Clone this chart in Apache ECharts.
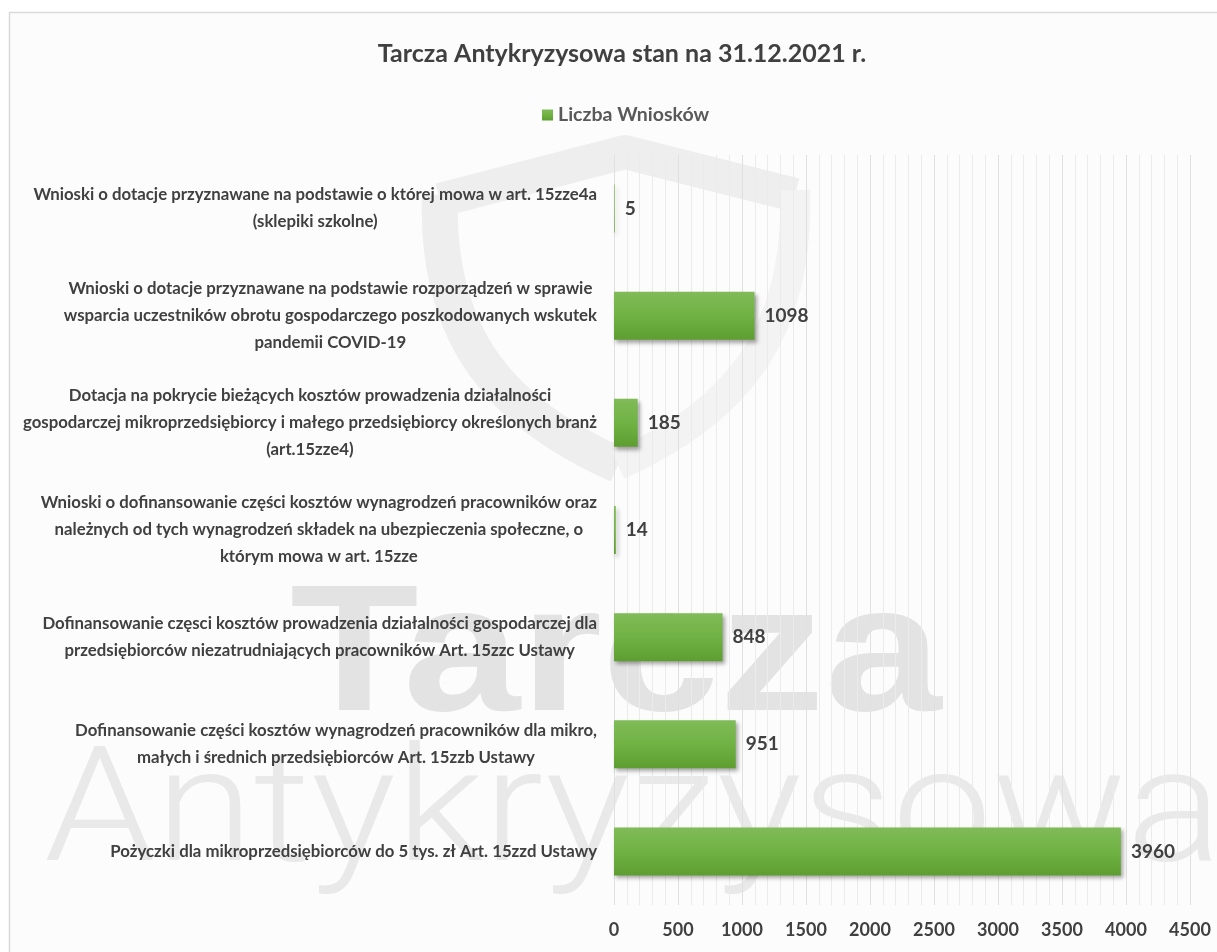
<!DOCTYPE html>
<html>
<head>
<meta charset="utf-8">
<script src="https://cdn.jsdelivr.net/npm/echarts@6/dist/echarts.min.js"></script>
<style>
  html, body { margin: 0; padding: 0; background: #fff; }
  #main { width: 1217px; height: 952px; }
</style>
</head>
<body>
<div id="main"></div>
<script>
// dane z wykresu (od góry do dołu)
var categories = [
  'Wnioski o dotacje przyznawane na podstawie o której mowa w art. 15zze4a\n(sklepiki szkolne)',
  'Wnioski o dotacje przyznawane na podstawie rozporządzeń w sprawie\nwsparcia uczestników obrotu gospodarczego poszkodowanych wskutek\npandemii COVID-19',
  'Dotacja na pokrycie bieżących kosztów prowadzenia działalności\ngospodarczej mikroprzedsiębiorcy i małego przedsiębiorcy określonych branż\n(art.15zze4)',
  'Wnioski o dofinansowanie części kosztów wynagrodzeń pracowników oraz\nnależnych od tych wynagrodzeń składek na ubezpieczenia społeczne, o\nktórym mowa w art. 15zze',
  'Dofinansowanie częsci kosztów prowadzenia działalności gospodarczej dla\nprzedsiębiorców niezatrudniających pracowników Art. 15zzc Ustawy',
  'Dofinansowanie części kosztów wynagrodzeń pracowników dla mikro,\nmałych i średnich przedsiębiorców Art. 15zzb Ustawy',
  'Pożyczki dla mikroprzedsiębiorców do 5 tys. zł Art. 15zzd Ustawy'
]
var liczbaWnioskow = [5, 1098, 185, 14, 848, 951, 3960]
var seriesName = 'Liczba Wniosków'
var titleText = 'Tarcza Antykryzysowa stan na 31.12.2021 r.'
var xMin = 0
var xMax = 4500
var xStep = 500

var font = 'Lato, "Open Sans", sans-serif'
var textColor = '#404040'
var shieldColor = '#eeeeee'

var myChart = echarts.init(document.getElementById('main'))

var option = {
  backgroundColor: '#ffffff',
  animation: false,
  graphic: [
    {
      type: 'rect', z: -30, silent: true,
      shape: { x: 9.5, y: 12.5, width: 1300, height: 1000 },
      style: { fill: '#fcfcfc', stroke: '#d9d9d9', lineWidth: 1.5 }
    },
    // znak wodny: tarcza
    {
      type: 'polyline', z: -20, silent: true,
      shape: { points: [[440, 200], [625, 152], [795, 195]] },
      style: { stroke: shieldColor, lineWidth: 34, fill: null, lineJoin: 'round' }
    },
    {
      type: 'bezierCurve', z: -20, silent: true,
      shape: { x1: 440, y1: 195, cpx1: 435, cpy1: 340, cpx2: 505, cpy2: 415, x2: 618, y2: 465 },
      style: { stroke: shieldColor, lineWidth: 36, fill: null }
    },
    {
      type: 'bezierCurve', z: -20, silent: true,
      shape: { x1: 795, y1: 190, cpx1: 800, cpy1: 340, cpx2: 730, cpy2: 415, x2: 618, y2: 465 },
      style: { stroke: '#f3f3f3', lineWidth: 30, fill: null }
    },
    {
      type: 'text', z: -20, silent: true,
      x: 290, y: 660, scaleX: 1.17,
      style: {
        text: 'Tarcza', fill: '#e3e3e3',
        font: 'bold 180px "Liberation Sans", Arial, sans-serif',
        verticalAlign: 'middle', align: 'left'
      }
    },
    {
      type: 'text', z: -20, silent: true,
      x: 44, y: 820, scaleX: 1.115,
      style: {
        text: 'Antykryzysowa', fill: '#e9e9e9',
        font: '300 160px Roboto, sans-serif',
        verticalAlign: 'middle', align: 'left'
      }
    }
  ],
  title: {
    text: titleText,
    left: 617,
    textAlign: 'center',
    top: 36,
    textStyle: { fontFamily: font, fontSize: 25, fontWeight: 'bold', color: textColor }
  },
  legend: {
    data: [seriesName],
    top: 100,
    left: 537,
    icon: 'rect',
    itemWidth: 11,
    itemHeight: 11,
    itemGap: 6,
    textStyle: { fontFamily: font, fontSize: 19.5, fontWeight: 'bold', color: '#595959' }
  },
  grid: {
    left: 614,
    right: 27,
    top: 155,
    bottom: 47,
    containLabel: false
  },
  xAxis: {
    type: 'value',
    min: xMin,
    max: xMax,
    interval: xStep,
    axisLine: { show: false },
    axisTick: { show: false },
    axisLabel: {
      fontFamily: font, fontSize: 18, fontWeight: 'bold', color: textColor, margin: 16,
      formatter: function (v) { return String(v) }
    },
    splitLine: { show: true, lineStyle: { color: '#e0e0e0', width: 1 } },
    minorTick: { show: false, splitNumber: 5 },
    minorSplitLine: { show: true, lineStyle: { color: '#ebebeb', width: 1 } }
  },
  yAxis: {
    type: 'category',
    data: categories,
    inverse: true,
    axisLine: { show: false },
    axisTick: { show: false },
    splitLine: { show: false },
    axisLabel: {
      margin: 17,
      align: 'right',
      formatter: function (v) {
        return v.split('\n').map(function (s) { return '{c|' + s + '}' }).join('\n')
      },
      rich: {
        c: { fontFamily: font, fontSize: 16.8, fontWeight: 'bold', color: textColor, lineHeight: 27, align: 'center' }
      }
    }
  },
  series: [
    {
      name: seriesName,
      type: 'bar',
      data: liczbaWnioskow,
      barWidth: 48,
      itemStyle: {
        color: new echarts.graphic.LinearGradient(0, 0, 0, 1, [
          { offset: 0, color: '#80bb57' },
          { offset: 0.5, color: '#70b244' },
          { offset: 1, color: '#5e9e31' }
        ]),
        shadowColor: 'rgba(0,0,0,0.35)',
        shadowBlur: 4,
        shadowOffsetX: 2,
        shadowOffsetY: 3
      },
      label: {
        show: true,
        position: 'right',
        distance: 10,
        fontFamily: font,
        fontSize: 19,
        fontWeight: 'bold',
        color: textColor
      }
    }
  ]
}

myChart.setOption(option)
</script>
</body>
</html>
